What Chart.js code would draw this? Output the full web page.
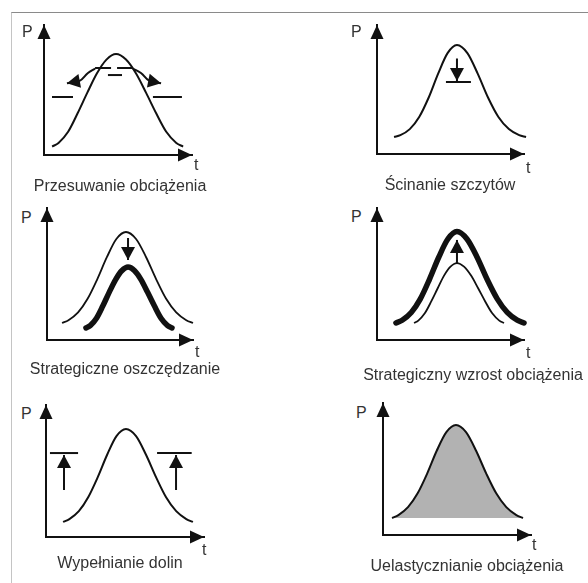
<!DOCTYPE html>
<html lang="pl">
<head>
<meta charset="UTF-8">
<title>Sterowanie obciążeniem</title>
<script src="https://cdn.jsdelivr.net/npm/chart.js"></script>
<style>
  html, body { margin: 0; padding: 0; background: #fff; }
  body {
    width: 588px; height: 583px; position: relative; overflow: hidden;
    font-family: 'Liberation Sans', Arial, sans-serif; color: #333;
  }
  #frame {
    position: absolute; left: 11px; top: 12px; width: 600px; height: 600px;
    border-top: 1px solid #8a8a8a; border-left: 1px solid #c4c4c4;
  }
  canvas { position: absolute; }
  .lbl { position: absolute; font-size: 16px; line-height: 16px; white-space: nowrap; }
  .cap { transform: translateX(-50%); }
</style>
</head>
<body>
<div id="frame"></div>
<canvas id="c1"></canvas>
<canvas id="c2"></canvas>
<canvas id="c3"></canvas>
<canvas id="c4"></canvas>
<canvas id="c5"></canvas>
<canvas id="c6"></canvas>

<div class="lbl" style="left:22px; top:24px">P</div>
<div class="lbl" style="left:351px; top:24px">P</div>
<div class="lbl" style="left:21px; top:210px">P</div>
<div class="lbl" style="left:351px; top:209px">P</div>
<div class="lbl" style="left:21px; top:406px">P</div>
<div class="lbl" style="left:356px; top:405px">P</div>

<div class="lbl" style="left:194px; top:157px">t</div>
<div class="lbl" style="left:526px; top:160px">t</div>
<div class="lbl" style="left:195px; top:344px">t</div>
<div class="lbl" style="left:526px; top:345px">t</div>
<div class="lbl" style="left:202px; top:542px">t</div>
<div class="lbl" style="left:532px; top:537px">t</div>

<div class="lbl cap" style="left:120px; top:178px">Przesuwanie obciążenia</div>
<div class="lbl cap" style="left:450px; top:177px">Ścinanie szczytów</div>
<div class="lbl cap" style="left:125px; top:361px">Strategiczne oszczędzanie</div>
<div class="lbl cap" style="left:473px; top:367px">Strategiczny wzrost obciążenia</div>
<div class="lbl cap" style="left:120px; top:555px">Wypełnianie dolin</div>
<div class="lbl cap" style="left:467px; top:558px">Uelastycznianie obciążenia</div>

<script>
    const INK = '#111';

    // --- panel 1: Przesuwanie obciążenia (t, P on 0..10 axes)
    const p1CurveT = [0.55, 0.98, 1.63, 2.27, 2.92, 3.57, 4.22, 4.87, 5.54, 6.22, 6.90, 7.58, 8.26, 8.94, 9.40];
    const p1CurveP = [0.65, 0.93, 1.79, 3.21, 4.78, 6.27, 7.34, 7.77, 7.34, 6.27, 4.78, 3.21, 1.79, 0.93, 0.65];
    const p1ValleyLeftT = [0.54, 1.96];
    const p1ValleyRightT = [7.36, 9.32];
    const p1ValleyP = [4.46, 4.46];
    const p1ShiftLeftT = [1.55, 2.40, 2.97, 3.45];
    const p1ShiftLeftP = [5.52, 5.70, 6.31, 6.65];
    const p1CutT = [3.45, 6.01];
    const p1CutP = [6.69, 6.69];
    const p1ShiftRightT = [6.01, 6.55, 7.12, 7.91];
    const p1ShiftRightP = [6.65, 6.31, 5.70, 5.52];
    const p1MarkT = [4.32, 5.27];
    const p1MarkP = [6.15, 6.15];

    // --- panel 2: Ścinanie szczytów
    const p2CurveT = [1.16, 1.59, 2.23, 2.87, 3.51, 4.16, 4.80, 5.44, 6.15, 6.85, 7.56, 8.26, 8.97, 9.67, 10.14];
    const p2CurveP = [1.32, 1.46, 1.93, 2.87, 4.36, 6.23, 7.82, 8.45, 7.82, 6.23, 4.36, 2.87, 1.93, 1.46, 1.32];
    const p2ArrowT = [5.44, 5.44];
    const p2ArrowP = [7.40, 5.66];
    const p2BarT = [4.69, 6.39];
    const p2BarP = [5.58, 5.58];

    // --- panel 3: Strategiczne oszczędzanie
    const p3ThinT = [1.03, 1.47, 2.13, 2.78, 3.44, 4.10, 4.75, 5.41, 6.10, 6.79, 7.48, 8.16, 8.85, 9.54, 10.0];
    const p3ThinP = [1.29, 1.50, 2.09, 3.12, 4.60, 6.27, 7.65, 8.18, 7.65, 6.27, 4.60, 3.12, 2.09, 1.50, 1.29];
    const p3ThickT = [2.67, 2.96, 3.39, 3.82, 4.25, 4.69, 5.12, 5.55, 6.00, 6.45, 6.90, 7.36, 7.81, 8.26, 8.56];
    const p3ThickP = [0.91, 1.09, 1.65, 2.57, 3.59, 4.56, 5.25, 5.53, 5.25, 4.56, 3.59, 2.57, 1.65, 1.09, 0.91];
    const p3ArrowT = [5.55, 5.55];
    const p3ArrowP = [7.73, 6.06];

    // --- panel 4: Strategiczny wzrost obciążenia
    const p4ThickT = [1.29, 1.71, 2.33, 2.95, 3.57, 4.20, 4.82, 5.44, 6.12, 6.81, 7.49, 8.18, 8.86, 9.54, 10.0];
    const p4ThickP = [1.29, 1.50, 2.09, 3.12, 4.60, 6.27, 7.65, 8.22, 7.65, 6.27, 4.60, 3.12, 2.09, 1.50, 1.29];
    const p4ThinT = [2.52, 2.81, 3.25, 3.69, 4.13, 4.56, 5.00, 5.44, 5.92, 6.40, 6.88, 7.36, 7.84, 8.32, 8.64];
    const p4ThinP = [1.29, 1.47, 2.02, 2.92, 3.92, 4.88, 5.56, 5.83, 5.56, 4.88, 3.92, 2.92, 2.02, 1.47, 1.29];
    const p4ArrowT = [5.44, 5.44];
    const p4ArrowP = [5.83, 7.58];

    // --- panel 5: Wypełnianie dolin
    const p5CurveT = [1.08, 1.48, 2.08, 2.67, 3.27, 3.87, 4.46, 5.06, 5.70, 6.33, 6.97, 7.60, 8.24, 8.88, 9.30];
    const p5CurveP = [1.14, 1.36, 1.96, 3.01, 4.52, 6.23, 7.64, 8.18, 7.64, 6.23, 4.52, 3.01, 1.96, 1.36, 1.14];
    const p5BarLeftT = [0.25, 2.03];
    const p5BarRightT = [7.03, 9.22];
    const p5BarP = [6.36, 6.36];
    const p5ArrowLeftT = [1.14, 1.14];
    const p5ArrowRightT = [8.23, 8.23];
    const p5ArrowP = [3.56, 6.21];

    // --- panel 6: Uelastycznianie obciążenia
    const p6CurveT = [0.61, 1.04, 1.69, 2.34, 2.99, 3.63, 4.28, 4.93, 5.61, 6.29, 6.97, 7.65, 8.33, 9.01, 9.46];
    const p6CurveP = [1.29, 1.51, 2.11, 3.16, 4.67, 6.38, 7.79, 8.33, 7.79, 6.38, 4.67, 3.16, 2.11, 1.51, 1.29];

    // where each panel's axes sit on the page (origin + arrow tips)
    const panels = [
        {id: 'c1', ox: 44, oy: 155, xt: 192, yt: 25},
        {id: 'c2', ox: 377, oy: 154, xt: 524, yt: 25},
        {id: 'c3', ox: 47, oy: 340, xt: 193, yt: 208},
        {id: 'c4', ox: 377, oy: 340, xt: 524, yt: 208},
        {id: 'c5', ox: 46, oy: 537, xt: 204, yt: 405},
        {id: 'c6', ox: 383, oy: 535, xt: 531, yt: 403}
    ];
    const PAD = {left: 12, top: 4, right: 12, bottom: 12};

    function pts(ts, ps) {
        return ts.map((t, i) => ({x: t, y: ps[i]}));
    }
    function line(ts, ps, extra) {
        return Object.assign({
            data: pts(ts, ps), borderColor: INK, borderWidth: 2,
            pointRadius: 0, tension: 0, clip: false, fill: false
        }, extra);
    }
    function curve(ts, ps, extra) {
        return line(ts, ps, Object.assign({cubicInterpolationMode: 'monotone'}, extra));
    }

    const sets = [
        [
            curve(p1CurveT, p1CurveP),
            line(p1ValleyLeftT, p1ValleyP),
            line(p1ValleyRightT, p1ValleyP),
            line(p1ShiftLeftT, p1ShiftLeftP, {tension: 0.4, arrow: 'start'}),
            line(p1CutT, p1CutP, {borderDash: [16, 6]}),
            line(p1ShiftRightT, p1ShiftRightP, {tension: 0.4, arrow: 'end'}),
            line(p1MarkT, p1MarkP)
        ],
        [
            curve(p2CurveT, p2CurveP),
            line(p2ArrowT, p2ArrowP, {arrow: 'end'}),
            line(p2BarT, p2BarP)
        ],
        [
            curve(p3ThinT, p3ThinP, {borderWidth: 1.8}),
            curve(p3ThickT, p3ThickP, {borderWidth: 5.5, borderCapStyle: 'round'}),
            line(p3ArrowT, p3ArrowP, {arrow: 'end'})
        ],
        [
            curve(p4ThickT, p4ThickP, {borderWidth: 5.5, borderCapStyle: 'round'}),
            curve(p4ThinT, p4ThinP, {borderWidth: 1.8}),
            line(p4ArrowT, p4ArrowP, {arrow: 'end'})
        ],
        [
            curve(p5CurveT, p5CurveP),
            line(p5BarLeftT, p5BarP),
            line(p5BarRightT, p5BarP),
            line(p5ArrowLeftT, p5ArrowP, {arrow: 'end'}),
            line(p5ArrowRightT, p5ArrowP, {arrow: 'end'})
        ],
        [
            curve(p6CurveT, p6CurveP, {fill: {value: p6CurveP[0]}, backgroundColor: '#b2b2b2'})
        ]
    ];

    function head(ctx, x, y, ux, uy, len, wid) {
        const bx = x - ux * len, by = y - uy * len;
        ctx.beginPath();
        ctx.moveTo(x, y);
        ctx.lineTo(bx - uy * wid / 2, by + ux * wid / 2);
        ctx.lineTo(bx + uy * wid / 2, by - ux * wid / 2);
        ctx.closePath();
        ctx.fill();
    }

    // arrow tips on both axes and on any dataset flagged with "arrow"
    const arrowPlugin = {
        id: 'arrows',
        afterDatasetsDraw(chart) {
            const ctx = chart.ctx;
            const xs = chart.scales.x, ys = chart.scales.y;
            ctx.save();
            ctx.fillStyle = INK;
            head(ctx, xs.getPixelForValue(0), ys.getPixelForValue(10), 0, -1, 14, 13);
            head(ctx, xs.getPixelForValue(10), ys.getPixelForValue(0), 1, 0, 14, 13);
            chart.data.datasets.forEach((ds, i) => {
                if (!ds.arrow) return;
                const el = chart.getDatasetMeta(i).data;
                const n = el.length;
                const a = ds.arrow === 'start' ? el[1] : el[n - 2];
                const b = ds.arrow === 'start' ? el[0] : el[n - 1];
                const dx = b.x - a.x, dy = b.y - a.y, d = Math.hypot(dx, dy);
                head(ctx, b.x, b.y, dx / d, dy / d, 13, 14);
            });
            ctx.restore();
        }
    };

    function axis() {
        return {
            type: 'linear', min: 0, max: 10,
            ticks: {display: false},
            grid: {display: false, drawTicks: false},
            border: {display: true, color: INK, width: 2}
        };
    }

    panels.forEach((p, k) => {
        const cv = document.getElementById(p.id);
        const w = p.xt - p.ox + PAD.left + PAD.right;
        const h = p.oy - p.yt + PAD.top + PAD.bottom;
        cv.width = w;
        cv.height = h;
        cv.style.width = w + 'px';
        cv.style.height = h + 'px';
        cv.style.left = (p.ox - PAD.left) + 'px';
        cv.style.top = (p.yt - PAD.top) + 'px';
        new Chart(cv, {
            type: 'line',
            data: {datasets: sets[k]},
            options: {
                responsive: false,
                animation: false,
                events: [],
                layout: {padding: PAD},
                plugins: {legend: {display: false}, tooltip: {enabled: false}},
                scales: {x: axis(), y: axis()}
            },
            plugins: [arrowPlugin]
        });
    });
</script>
</body>
</html>
